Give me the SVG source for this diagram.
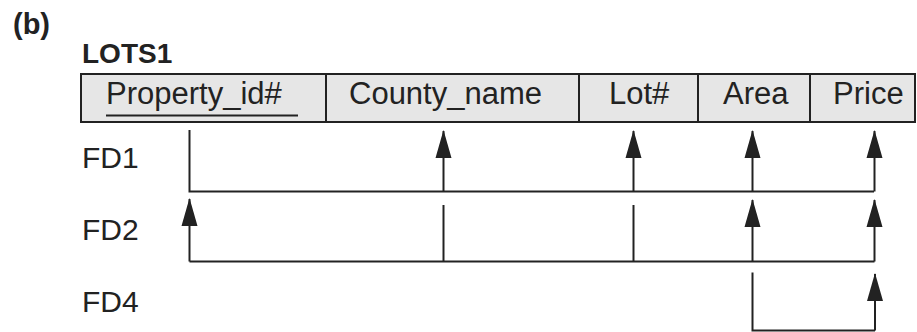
<svg xmlns="http://www.w3.org/2000/svg" width="917" height="332" viewBox="0 0 917 332">
<style>
text{font-family:"Liberation Sans",Arial,sans-serif;fill:#222}
.t{font-size:30px}
.h{font-size:31px}
.b{font-size:28px;font-weight:bold}
.cell{fill:#e6e6e6;stroke:#222;stroke-width:2}
.c path,.c line{stroke:#222;stroke-width:2;fill:none}
</style>
<defs>
<marker id="ah" markerUnits="userSpaceOnUse" markerWidth="28" markerHeight="17" viewBox="0 0 28 17" refX="27" refY="8.5" orient="auto">
<path d="M28,8.5 L0,16.5 L0,0.5 Z" fill="#222"/>
</marker>
</defs>
<text class="b" x="13" y="34" style="font-size:29px">(b)</text>
<text class="b" x="82" y="63">LOTS1</text>
<g id="lots1">
<rect class="cell" x="81" y="74" width="834" height="48"/>
<line x1="326" y1="74" x2="326" y2="122" stroke="#222" stroke-width="2"/>
<line x1="579" y1="74" x2="579" y2="122" stroke="#222" stroke-width="2"/>
<line x1="698" y1="74" x2="698" y2="122" stroke="#222" stroke-width="2"/>
<line x1="810" y1="74" x2="810" y2="122" stroke="#222" stroke-width="2"/>
</g>
<g id="property_id"><text class="h" x="106" y="104">Property_id#</text><line x1="106" y1="115.5" x2="298" y2="115.5" stroke="#222" stroke-width="2"/></g>
<g id="county_name"><text class="h" x="349" y="104">County_name</text></g>
<g id="lot"><text class="h" x="609" y="104">Lot#</text></g>
<g id="area"><text class="h" x="723" y="104">Area</text></g>
<g id="price"><text class="h" x="833" y="104">Price</text></g>
<g id="fd1"><text class="t" x="82" y="168">FD1</text></g>
<g id="fd2"><text class="t" x="82" y="240">FD2</text></g>
<g id="fd4"><text class="t" x="82" y="312">FD4</text></g>
<g class="c" id="connectors">
<path d="M189.5,130 V191.5 H874"/>
<line x1="443.5" y1="191.5" x2="443.5" y2="131" marker-end="url(#ah)"/>
<line x1="633.5" y1="191.5" x2="633.5" y2="131" marker-end="url(#ah)"/>
<line x1="752.5" y1="191.5" x2="752.5" y2="131" marker-end="url(#ah)"/>
<line x1="874.5" y1="191.5" x2="874.5" y2="131" marker-end="url(#ah)"/>
<path d="M874.5,261.5 H189.5"/>
<line x1="189.5" y1="261.5" x2="189.5" y2="199" marker-end="url(#ah)"/>
<line x1="443.5" y1="205" x2="443.5" y2="261.5"/>
<line x1="633.5" y1="205" x2="633.5" y2="261.5"/>
<line x1="752.5" y1="261.5" x2="752.5" y2="200" marker-end="url(#ah)"/>
<line x1="874.5" y1="261.5" x2="874.5" y2="200" marker-end="url(#ah)"/>
<path d="M752.5,272.5 V330.5 H875"/>
<line x1="875" y1="330.5" x2="875" y2="274" marker-end="url(#ah)"/>
</g>
</svg>
